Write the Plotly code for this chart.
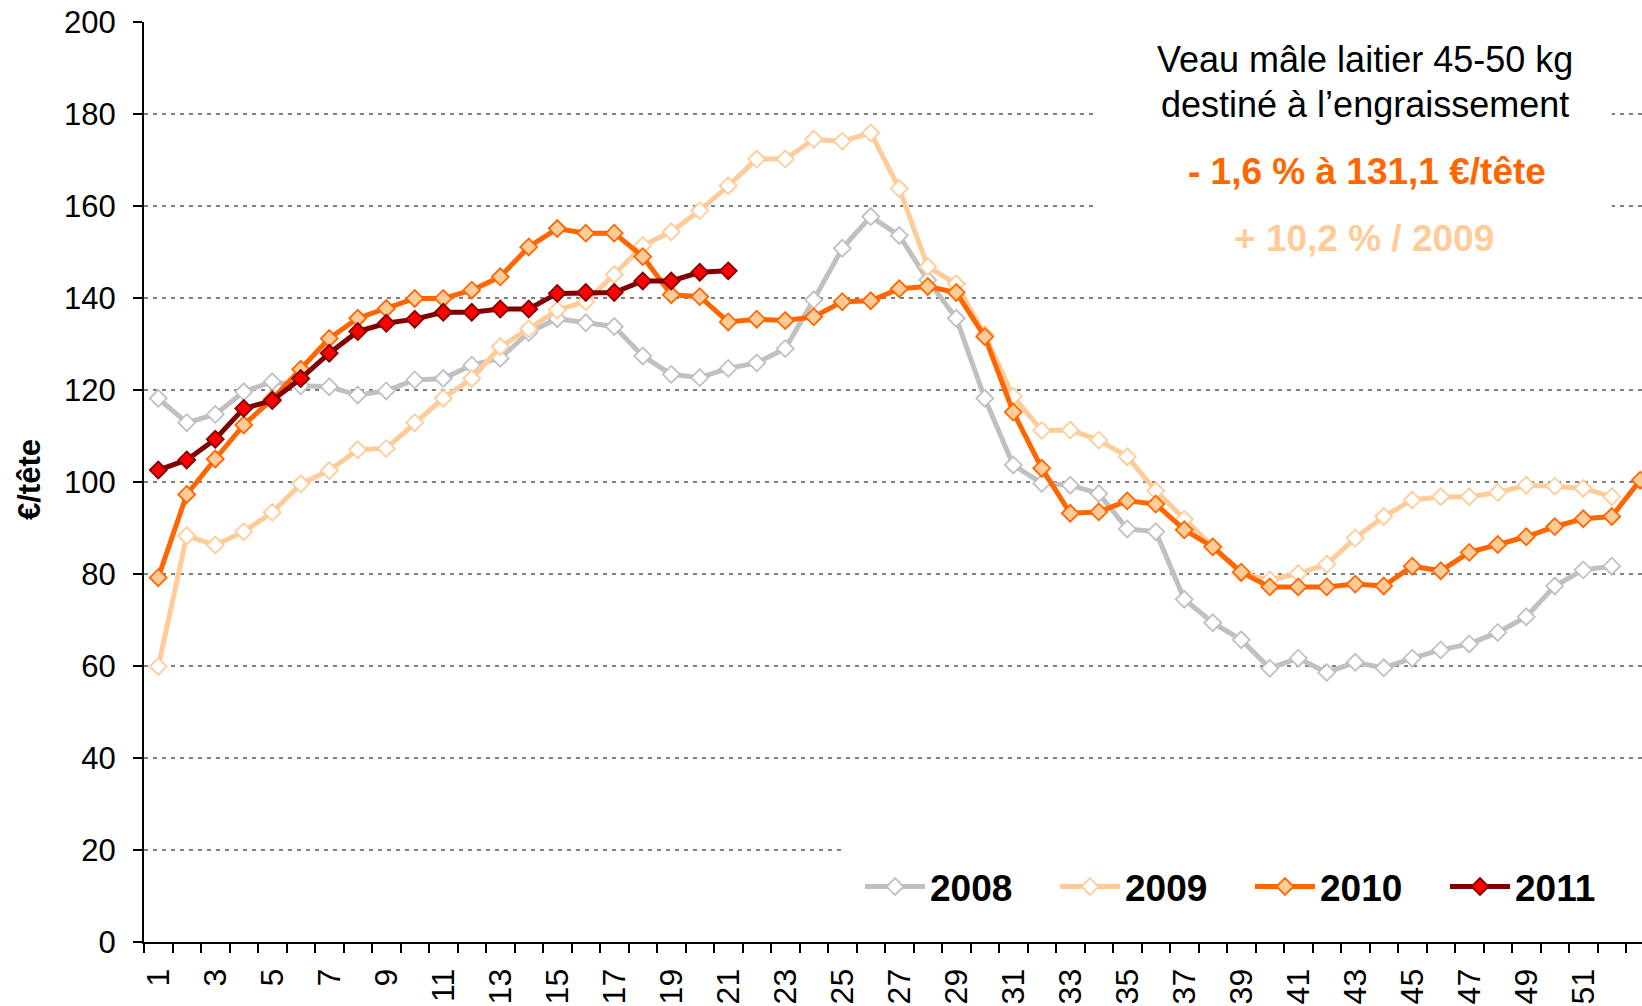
import plotly.graph_objects as go

weeks = list(range(1, 54))

y2008 = [118.2, 112.9, 114.7, 119.6, 121.8, 120.9, 120.7, 118.9, 119.8, 122.2,
         122.5, 125.4, 126.9, 132.5, 135.5, 134.6, 133.8, 127.4, 123.4, 122.7,
         124.7, 125.9, 129.0, 139.6, 150.8, 157.7, 153.6, 143.9, 135.6, 118.2,
         103.7, 99.7, 99.3, 97.5, 89.8, 89.2, 74.5, 69.4, 65.7, 59.5,
         61.7, 58.6, 60.8, 59.6, 61.7, 63.5, 64.8, 67.3, 70.7, 77.4,
         80.9, 81.7]
y2009 = [59.9, 88.3, 86.3, 89.2, 93.4, 99.6, 102.5, 107.0, 107.3, 112.9,
         118.2, 122.5, 129.4, 133.3, 137.4, 139.2, 145.1, 151.4, 154.4, 159.0,
         164.4, 170.2, 170.2, 174.5, 174.1, 175.9, 163.8, 146.8, 143.1, 132.0,
         118.6, 111.2, 111.3, 109.1, 105.5, 98.1, 91.9, 85.9, 80.1, 78.7,
         80.1, 82.1, 87.8, 92.5, 96.1, 96.8, 96.8, 97.7, 99.3, 99.1,
         98.6, 96.8]
y2010 = [79.2, 97.3, 105.0, 112.4, 118.0, 124.5, 131.2, 135.6, 137.7, 139.9,
         139.9, 141.7, 144.6, 151.1, 155.1, 154.1, 154.1, 149.0, 140.7, 140.3,
         134.8, 135.4, 135.1, 135.9, 139.2, 139.4, 142.0, 142.5, 141.2, 131.6,
         115.2, 103.0, 93.2, 93.5, 95.9, 95.2, 89.6, 85.9, 80.4, 77.2,
         77.2, 77.2, 77.8, 77.4, 81.7, 80.7, 84.7, 86.4, 88.1, 90.3,
         92.0, 92.5, 100.4]
y2011 = [102.6, 104.8, 109.3, 116.0, 117.7, 122.5, 128.0, 132.7, 134.5, 135.4,
         136.9, 136.9, 137.6, 137.6, 141.0, 141.2, 141.2, 143.7, 143.7, 145.6,
         145.9]

series_names = ["2008", "2009", "2010", "2011"]
series_values = [y2008, y2009, y2010, y2011]
line_colors = ["#C0C0C0", "#FFCC99", "#FF6600", "#800000"]
marker_fills = ["#FFFFFF", "#FFFFFF", "#FFCC99", "#FF0000"]
marker_lines = ["#C0C0C0", "#FFCC99", "#FF6600", "#800000"]

tick_labels = [str(w) for w in range(1, 52, 2)]

title_lines = ["Veau mâle laitier 45-50 kg", "destiné à l’engraissement"]
stat_line1 = "- 1,6 % à 131,1 €/tête"
stat_line2 = "+ 10,2 % / 2009"
y_title = "€/tête"

FONT = "Liberation Sans, Arial, sans-serif"

fig = go.Figure()
for name, vals, lc, mf, ml in zip(series_names, series_values, line_colors, marker_fills, marker_lines):
    fig.add_trace(go.Scatter(
        x=weeks[:len(vals)], y=vals, name=name, mode="lines+markers",
        line=dict(color=lc, width=5),
        marker=dict(symbol="diamond", size=13, color=mf, line=dict(color=ml, width=1.8)),
    ))

W, H = 1642, 1006
left, top, bottom = 144, 22, 64
band = 28.5
x_end = 0.5 + (W - left) / band

# white boxes hiding gridlines behind the text block and the legend
fig.add_shape(type="rect", xref="x", yref="y", x0=33.8, x1=52.0, y0=148, y1=197,
              fillcolor="white", line=dict(width=0), layer="between")
fig.add_shape(type="rect", xref="x", yref="y", x0=25.03, x1=x_end, y0=12, y1=30,
              fillcolor="white", line=dict(width=0), layer="between")

fig.add_annotation(x=43.33, y=191.8, xref="x", yref="y", text=title_lines[0], showarrow=False,
                   font=dict(family=FONT, size=36, color="black"), xanchor="center", yanchor="middle")
fig.add_annotation(x=43.33, y=182.1, xref="x", yref="y", text=title_lines[1], showarrow=False,
                   font=dict(family=FONT, size=36, color="black"), xanchor="center", yanchor="middle")
fig.add_annotation(x=43.4, y=167.5, xref="x", yref="y", text="<b>" + stat_line1 + "</b>", showarrow=False,
                   font=dict(family=FONT, size=37, color="#FF6600"), xanchor="center", yanchor="middle")
fig.add_annotation(x=43.3, y=152.9, xref="x", yref="y", text="<b>" + stat_line2 + "</b>", showarrow=False,
                   font=dict(family=FONT, size=37, color="#FFCC99"), xanchor="center", yanchor="middle")
fig.add_annotation(x=(29 - left) / (W - left), y=(942 - 480) / 920, xref="paper", yref="paper",
                   text="<b>" + y_title + "</b>", textangle=-90, showarrow=False,
                   font=dict(family=FONT, size=31, color="black"), xanchor="center", yanchor="middle")

fig.update_layout(
    width=W, height=H,
    margin=dict(l=left, r=0, t=top, b=bottom, pad=0),
    paper_bgcolor="white", plot_bgcolor="white",
    font=dict(family=FONT, color="black"),
    showlegend=True,
    legend=dict(orientation="h", x=(860 - left) / (W - left), xanchor="left",
                y=(942 - 887) / 920, yanchor="middle",
                bgcolor="rgba(0,0,0,0)", font=dict(family=FONT, size=37, color="black", weight="bold"),
                entrywidth=120, entrywidthmode="pixels", traceorder="normal", itemwidth=60),
    xaxis=dict(range=[0.5, x_end], tickmode="array", tickvals=list(range(1, 52, 2)), ticktext=tick_labels,
               tickangle=-90, ticks="", showgrid=False, zeroline=False,
               showline=True, linecolor="black", linewidth=2, automargin=False,
               tickfont=dict(family=FONT, size=32, color="black"), ticklabelstandoff=12,
               minor=dict(tickmode="linear", tick0=0.5, dtick=1, ticks="outside", ticklen=9,
                          tickwidth=1.5, tickcolor="black", showgrid=False)),
    yaxis=dict(range=[0, 200], tickmode="linear", tick0=0, dtick=20, ticks="outside", ticklen=9,
               tickwidth=2, tickcolor="black", showline=True, linecolor="black", linewidth=2,
               showgrid=True, gridcolor="#808080", gridwidth=2, griddash="4px,5px",
               zeroline=False, tickfont=dict(family=FONT, size=31, color="black"),
               ticklabelstandoff=11, automargin=False),
)

fig.write_html("out.html", config={"displayModeBar": False},
               post_script="document.body.style.margin='0';")
